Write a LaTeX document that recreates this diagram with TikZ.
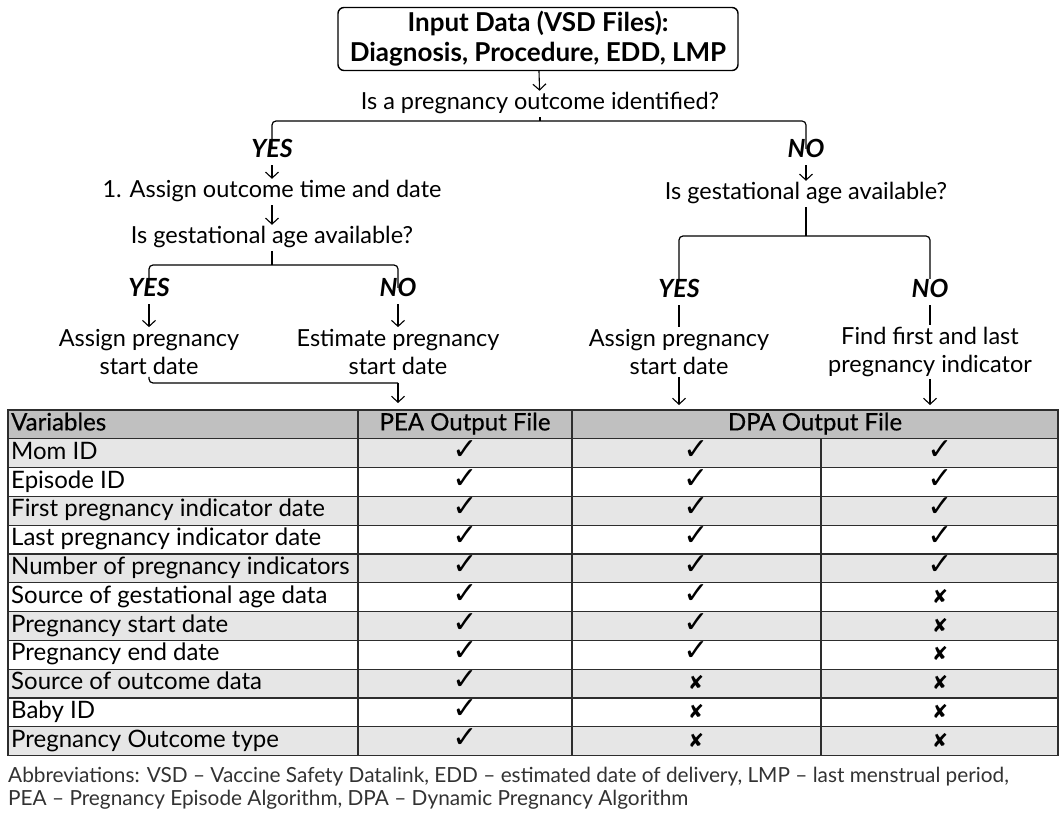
\documentclass[tikz,border=0pt]{standalone}
\usepackage{fontspec}
\setmainfont{Lato}
\newfontfamily\symfont{DejaVu Sans}
\newfontfamily\medfont[FakeBold=0.5]{Lato}
\usetikzlibrary{arrows.meta,positioning}
\definecolor{hdrgray}{RGB}{192,192,192}
\definecolor{rowgray}{RGB}{230,230,230}
\definecolor{gridgray}{RGB}{45,45,45}
\definecolor{notegray}{RGB}{50,50,50}
% marks used in the table cells
\newcommand{\markc}{{\symfont\bfseries\fontsize{30}{30}\selectfont ✓}}
\newcommand{\markt}{{\symfont\fontsize{30}{30}\selectfont ✓}}
\newcommand{\markx}{{\symfont\fontsize{19}{19}\selectfont ✘}}
\tikzset{
  flowtext/.style={font=\fontsize{23.5}{28}\selectfont, inner sep=2pt,
    text height=17pt, text depth=5pt},
  twoline/.style={font=\fontsize{23.5}{28}\selectfont, inner sep=2pt,
    align=center, fill=white},
  answer/.style={flowtext, font=\fontsize{25}{28}\selectfont\bfseries\itshape},
  inputbox/.style={draw, rounded corners=6pt, line width=1.4pt,
    minimum width=400pt, minimum height=63pt, align=center,
    font=\fontsize{26}{30}\selectfont\bfseries},
  flowline/.style={line width=1.2pt, rounded corners=4pt},
  flowarrow/.style={line width=1.1pt, -{Straight Barb[length=6pt,width=13pt]}},
  celltext/.style={font=\fontsize{24}{28}\selectfont, inner sep=0pt,
    text height=17pt, text depth=5pt},
  hdrtext/.style={celltext, font=\fontsize{24}{28}\selectfont\medfont},
  gridline/.style={gridgray, line width=1.2pt},
  notetext/.style={font=\fontsize{20.8}{23}\selectfont, text=notegray,
    align=left, inner sep=0pt}
}
\begin{document}
\begin{tikzpicture}[x=1pt,y=-1pt]
  \useasboundingbox[fill=white] (0,0) rectangle (1061,813);

  % flow chart
  \node[inputbox] (input) at (538,39)
    {Input Data (VSD Files):\\Diagnosis, Procedure, EDD, LMP};
  \node[flowtext] (outcome) at (540,104) {Is a pregnancy outcome identified?};
  \node[answer] (yesA) at (272,152) {YES};
  \node[answer] (noA) at (806,152) {NO};
  \node[flowtext] (assign) at (272,192) {1. Assign outcome time and date};
  \node[flowtext] (gestL) at (272,238) {Is gestational age available?};
  \node[answer] (yesL) at (149,291) {YES};
  \node[answer] (noL) at (398,291) {NO};
  \node[twoline] (startL) at (149,352) {Assign pregnancy\\start date};
  \node[twoline] (estL) at (398,352) {Estimate pregnancy\\start date};
  \node[flowtext] (gestR) at (806,194) {Is gestational age available?};
  \node[answer] (yesR) at (679,292) {YES};
  \node[answer] (noR) at (930,292) {NO};
  \node[twoline] (startR) at (679,352) {Assign pregnancy\\start date};
  \node[twoline] (findR) at (930,352) {Find first and last\\pregnancy indicator};

  \coordinate (forkA) at (540,121);
  \coordinate (forkL) at (272,265);
  \coordinate (forkR) at (806,236);
  \coordinate (joinL) at (398,383);
  \coordinate (peaIn) at (398,403);
  \coordinate (dpaInA) at (679,405);
  \coordinate (dpaInB) at (930,405);

  \draw[flowarrow] (input) -- (outcome);
  \draw[flowline] (outcome) -- (forkA);
  \draw[flowline] ([yshift=-10pt]yesA.north) |- (forkA) -| ([yshift=-10pt]noA.north);
  \draw[flowarrow] (yesA) -- (assign);
  \draw[flowarrow] (assign) -- (gestL);
  \draw[flowline] (gestL) -- (forkL);
  \draw[flowline] ([yshift=-10pt]yesL.north) |- (forkL) -| ([yshift=-10pt]noL.north);
  \draw[flowarrow] (yesL) -- (startL);
  \draw[flowarrow] (noL) -- (estL);
  \draw[flowline] (startL) |- (joinL);
  \draw[flowarrow] (joinL) -- (peaIn);
  \draw[flowarrow] (noA) -- (gestR);
  \draw[flowline] (gestR) -- (forkR);
  \draw[flowline] (yesR) |- (forkR) -| (noR);
  \draw[flowline] (yesR) -- (startR);
  \draw[flowline] (noR) -- (findR);
  \draw[flowarrow] (startR) -- (dpaInA);
  \draw[flowarrow] (findR) -- (dpaInB);

  % table
  \fill[hdrgray] (8,410) rectangle (1058,438.8);
  \foreach \lbl/\pea/\dpa/\dpb [count=\i] in {
      Mom ID/c/c/c, Episode ID/c/t/c, First pregnancy indicator date/c/c/c,
      Last pregnancy indicator date/c/c/c, Number of pregnancy indicators/c/c/c,
      Source of gestational age data/c/c/x, Pregnancy start date/c/c/x,
      Pregnancy end date/c/c/x, Source of outcome data/c/x/x,
      Baby ID/c/x/x, Pregnancy Outcome type/c/x/x}{
    \pgfmathsetmacro{\ytop}{410+28.8*\i}
    \pgfmathsetmacro{\ymid}{\ytop+14.4}
    \ifodd\i \fill[rowgray] (8,\ytop) rectangle (1058,\ytop+28.8); \fi
    \node[celltext, anchor=west] (var\i) at (11,\ymid) {\lbl};
    \node[celltext] (pea\i) at (465,\ymid) {\csname mark\pea\endcsname};
    \node[celltext] (dpa\i) at (696,\ymid) {\csname mark\dpa\endcsname};
    \node[celltext] (dpb\i) at (940,\ymid) {\csname mark\dpb\endcsname};
  }
  \foreach \i in {1,...,11}
    \draw[gridline] (8,410+28.8*\i) -- (1058,410+28.8*\i);
  \draw[gridline] (358,410) -- (358,755.6);
  \draw[gridline] (572,410) -- (572,755.6);
  \draw[gridline] (821,438.8) -- (821,755.6);
  \draw[gridline] (8,410) rectangle (1058,755.6);
  \node[hdrtext, anchor=west] (hdrVar) at (11,424.4) {Variables};
  \node[hdrtext] (hdrPEA) at (465,424.4) {PEA Output File};
  \node[hdrtext] (hdrDPA) at (815,424.4) {DPA Output File};

  % abbreviations
  \node[notetext, anchor=north west] (abbr) at (8,767)
    {Abbreviations: VSD – Vaccine Safety Datalink, EDD – estimated date of delivery, LMP – last menstrual period,\\
     PEA – Pregnancy Episode Algorithm, DPA – Dynamic Pregnancy Algorithm};
\end{tikzpicture}
\end{document}
